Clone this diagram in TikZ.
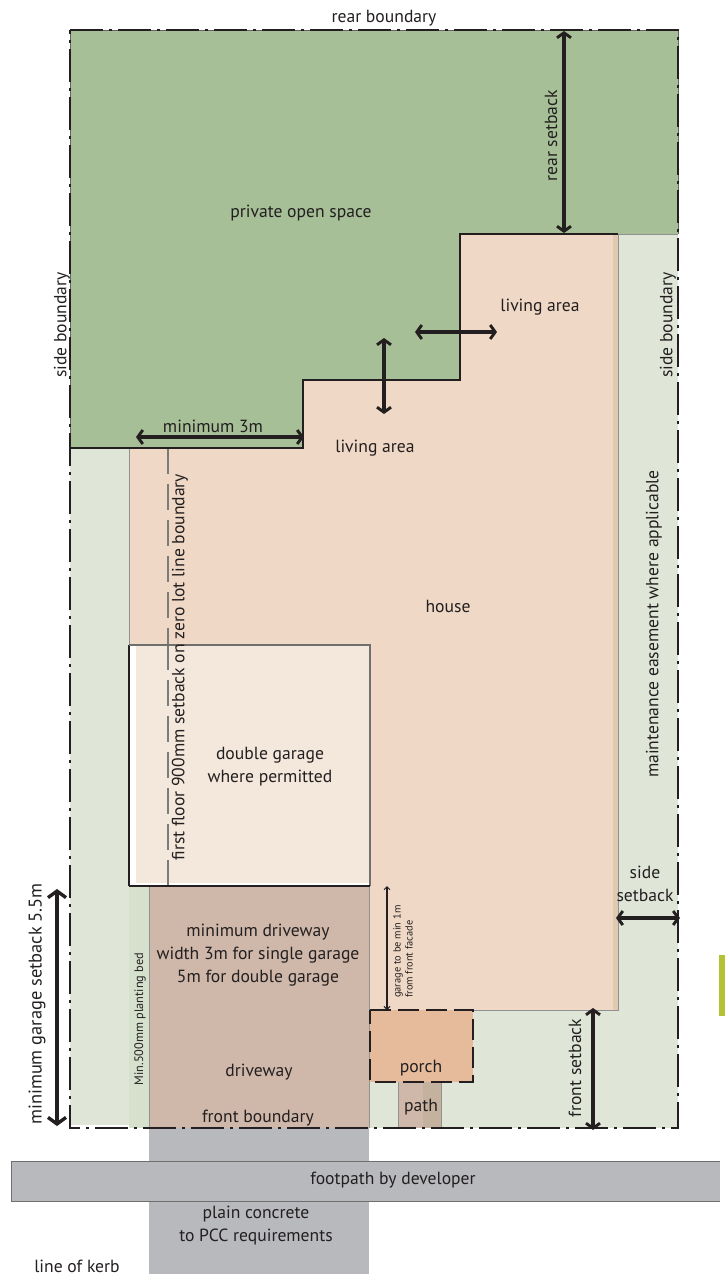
\documentclass[tikz,border=0pt]{standalone}
\usepackage{fontspec}
\setmainfont{PT Sans}
\usetikzlibrary{arrows.meta}
\definecolor{ink}{HTML}{231F20}
\definecolor{greenspace}{HTML}{A6BF97}
\definecolor{easement}{HTML}{DFE6D8}
\definecolor{housefill}{HTML}{EFD9C6}
\definecolor{housestripe}{HTML}{E0C9AF}
\definecolor{garagefill}{HTML}{F4E7DB}
\definecolor{drivefill}{HTML}{CFB8AA}
\definecolor{bedfill}{HTML}{D5E0CD}
\definecolor{concrete}{HTML}{B8B9BD}
\definecolor{porchfill}{HTML}{E5BB9B}
\definecolor{pathshade}{HTML}{C4B29E}
\definecolor{tab}{HTML}{B3C235}
\definecolor{edgegray}{HTML}{8F9290}
\tikzset{
  lab/.style={font=\fontsize{17.6bp}{23bp}\selectfont,text=ink,inner sep=0pt,align=center},
  biglab/.style={font=\fontsize{18.4bp}{23bp}\selectfont,text=ink,inner sep=0pt},
  smalllab/.style={font=\fontsize{10.4bp}{12bp}\selectfont,text=ink,inner sep=0pt,align=left},
  bedlab/.style={font=\fontsize{12.3bp}{14bp}\selectfont,text=ink,inner sep=0pt},
  dim/.style={draw=ink,line width=4bp,{Straight Barb[length=5bp,width=14bp,line width=2.9bp]}-{Straight Barb[length=5bp,width=14bp,line width=2.9bp]}},
  bigdim/.style={draw=ink,line width=4.8bp,{Straight Barb[length=6.5bp,width=18bp,line width=3.4bp]}-{Straight Barb[length=6.5bp,width=18bp,line width=3.4bp]}},
  thindim/.style={draw=ink,line width=1.1bp,{Straight Barb[length=3bp,width=6bp,line width=1bp]}-{Straight Barb[length=3bp,width=6bp,line width=1bp]}},
  boundary/.style={draw=ink,line width=1.1bp,dash pattern=on 33bp off 6bp on 3bp off 6bp},
  porchline/.style={draw=ink,line width=1.2bp,dash pattern=on 21bp off 7bp},
  zeroline/.style={draw=edgegray!85!black,line width=1.1bp,dash pattern=on 26bp off 10bp},
}
\begin{document}
\begin{tikzpicture}[x=1bp,y=-1bp]
\useasboundingbox (0,0) rectangle (725,1274);
% base areas
\fill[easement] (70,234) rectangle (678,1128);
\fill[white] (70,1125) rectangle (129,1129);
\fill[greenspace] (70,30) -- (678,30) -- (678,234) -- (460,234) -- (460,380) -- (303,380) -- (303,448) -- (70,448) -- cycle;
\fill[housefill] (129,448) -- (303,448) -- (303,380) -- (460,380) -- (460,234) -- (618,234) -- (618,1010) -- (370,1010) -- (370,886) -- (129,886) -- cycle;
\fill[housestripe] (613,234) rectangle (618,1010);
\draw[edgegray,line width=1bp] (618,234) -- (618,1010) -- (370,1010);
\draw[edgegray,line width=0.8bp] (129,448) -- (129,645);
% zero-lot line
\draw[zeroline] (168,448) -- (168,886);
% garage
\fill[white] (129,645) rectangle (370,886);
\fill[garagefill] (136,645) rectangle (370,883);
\draw[zeroline] (168,886) -- (168,645);
\draw[ink,line width=1.2bp] (129,886) -- (129,645);
\draw[edgegray!70!ink,line width=1.2bp] (129,645) -- (370,645) -- (370,886);
\draw[ink,line width=1.4bp] (129,886) -- (370,886);
% driveway, bed, concrete
\fill[bedfill] (129,887) rectangle (149,1128);
\fill[concrete] (149,1128) rectangle (369,1274);
\fill[drivefill] (149,887) rectangle (369,1128);
\draw[edgegray,line width=0.8bp] (149,887) -- (149,1128);
\draw[edgegray,line width=0.8bp] (369,887) -- (369,1128);
% footpath
\fill[concrete] (11,1161) rectangle (720,1201);
\draw[edgegray!70!ink,line width=1bp] (720,1161) -- (11,1161) -- (11,1201) -- (720,1201);
% porch and path
\fill[drivefill] (398,1082) rectangle (441,1128);
\fill[pathshade] (423,1082) rectangle (441,1128);
\draw[edgegray,line width=1bp] (398,1082) -- (398,1128);
\draw[edgegray,line width=1bp] (441,1082) -- (441,1128);
\fill[porchfill] (370,1010) rectangle (473,1082);
\draw[porchline] (370,1010) -- (473,1010) -- (473,1082) -- (370,1082) -- cycle;
% green outline
\draw[ink,line width=1.3bp] (70,448) -- (303,448) -- (303,380) -- (460,380) -- (460,234) -- (618,234);
\draw[edgegray,line width=1bp] (618,234) -- (678,234);
\draw[edgegray!60!ink,line width=1bp] (70,448) -- (70,30) -- (678,30) -- (678,234);
% lot boundary
\draw[boundary] (70,30) -- (678,30) -- (678,1128) -- (70,1128) -- cycle;
% side tab
\fill[tab] (719,955) rectangle (725,1016);
% dimension arrows
\coordinate (rearT) at (564,31); \coordinate (rearB) at (564,233);
\coordinate (minL) at (136,437); \coordinate (minR) at (304,437);
\coordinate (stepT) at (384,338); \coordinate (stepB) at (384,414);
\coordinate (stepL) at (415,332); \coordinate (stepR) at (497,332);
\coordinate (gsT) at (57,889); \coordinate (gsB) at (57,1126);
\coordinate (sideL) at (616,918); \coordinate (sideR) at (680,918);
\coordinate (frontT) at (593,1008); \coordinate (frontB) at (593,1130);
\coordinate (gT) at (387,886); \coordinate (gB) at (387,1010);
\draw[dim] (rearT) -- (rearB);
\draw[dim] (minL) -- (minR);
\draw[dim] (stepT) -- (stepB);
\draw[dim] (stepL) -- (stepR);
\draw[bigdim] (gsT) -- (gsB);
\draw[dim] (sideL) -- (sideR);
\draw[dim] (frontT) -- (frontB);
\draw[thindim] (gT) -- (gB);
% labels
\node[lab] (t1) at (384,18.5) {rear boundary};
\node[lab] (t2) at (301,213) {private open space};
\node[lab,rotate=90] (t3) at (551,136) {rear setback};
\node[lab,rotate=90] (t4) at (62,325) {side boundary};
\node[lab,rotate=90] (t5) at (668,325) {side boundary};
\node[lab] (t6) at (540,307) {living area};
\node[lab] (t7) at (375,448) {living area};
\node[lab] (t8) at (213,426) {minimum 3m};
\node[lab] (t9) at (448,606) {house};
\node[lab,rotate=90] (t10) at (180,667) {first floor 900mm setback on zero lot line boundary};
\node[lab,rotate=90] (t11) at (654,624) {maintenance easement where applicable};
\node[lab] (t12) at (270,767) {double garage\\where permitted};
\node[lab] (t13) at (645,884) {side\\setback};
\node[lab] (t14) at (258,955) {minimum driveway\\width 3m for single garage\\5m for double garage};
\node[lab] (t15) at (259,1072) {driveway};
\node[lab] (t16) at (258,1118) {front boundary};
\node[bedlab,rotate=90] (t17) at (140,1019) {Min.500mm planting bed};
\node[smalllab,rotate=90,anchor=west] (t18) at (403,998) {garage to be min 1m\\from front facade};
\node[lab] (t19) at (421,1068) {porch};
\node[lab] (t20) at (421,1107) {path};
\node[lab] (t21) at (393,1180) {footpath by developer};
\node[lab] (t22) at (256,1226) {plain concrete\\to PCC requirements};
\node[lab] (t23) at (77,1266) {line of kerb};
\node[lab,rotate=90] (t24) at (575,1068) {front setback};
\node[biglab,rotate=90] (t25) at (37,1004) {minimum garage setback 5.5m};
\end{tikzpicture}
\end{document}
